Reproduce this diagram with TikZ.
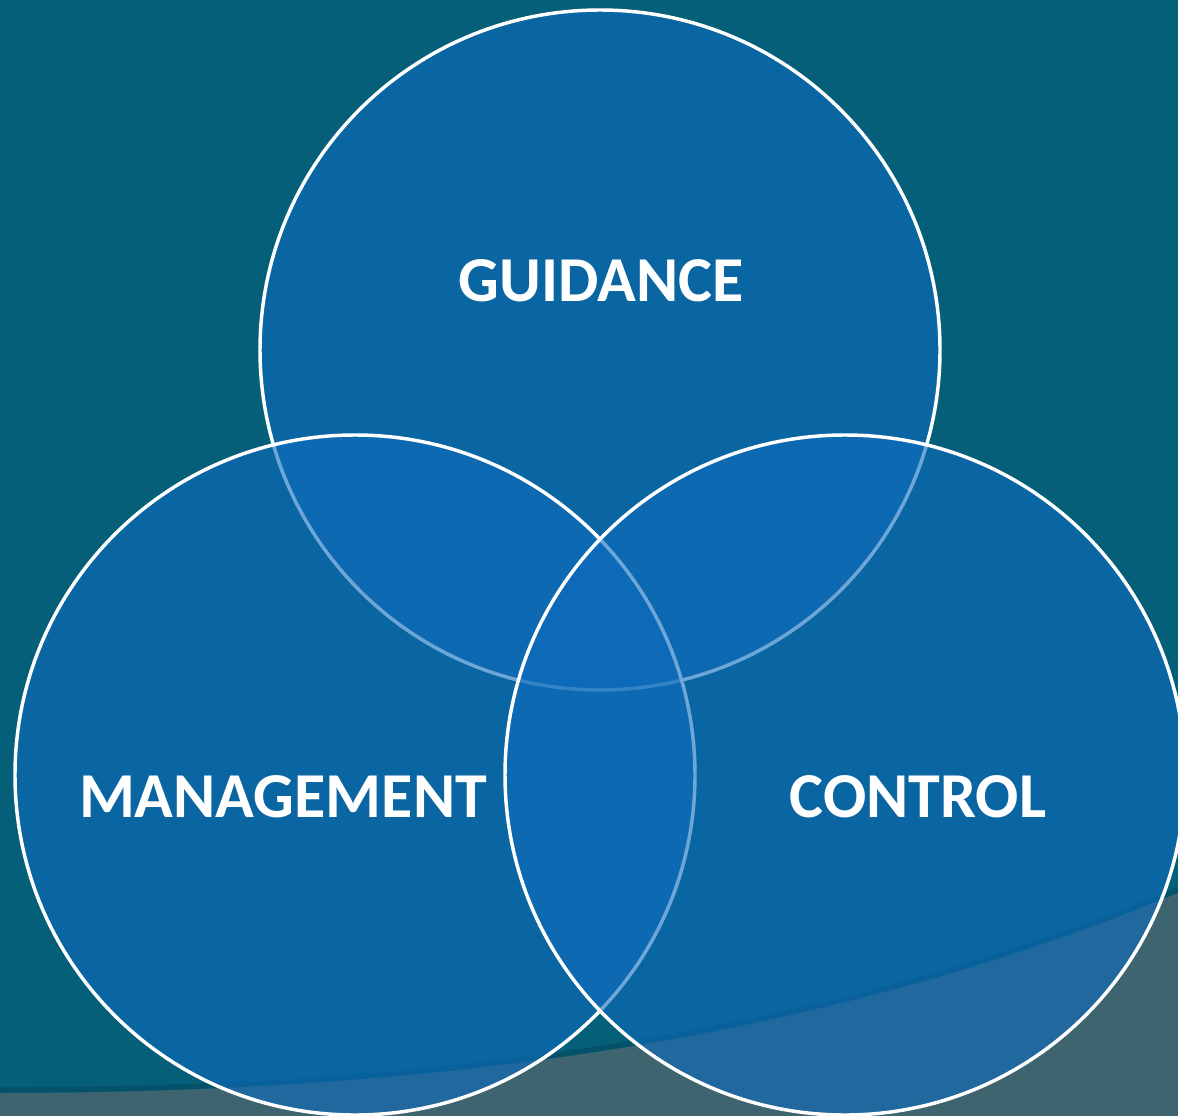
\documentclass[tikz,border=0pt]{standalone}
\usepackage{fontspec}
\setsansfont{Carlito}
\usepackage{tikz}
\usetikzlibrary{positioning}
\definecolor{bgteal}{RGB}{5,95,120}
\definecolor{bandgrey}{RGB}{62,100,112}
\definecolor{bandshade}{RGB}{2,70,92}
\definecolor{ringblue}{RGB}{14,108,190}
\tikzset{
  ring/.style={circle, draw=white, line width=2.6pt, fill=ringblue, fill opacity=0.6, minimum size=510pt, inner sep=0pt},
  word/.style={text=white, font=\sffamily\bfseries\fontsize{48}{52}\selectfont, inner sep=0pt}
}
\begin{document}
\begin{tikzpicture}[x=0.75pt, y=-0.75pt]
    \useasboundingbox (0,0) rectangle (1178,1116);
    \clip (0,0) rectangle (1178,1116);
    % background and lower band
    \fill[bgteal] (0,0) rectangle (1178,1116);
    \draw[bandshade, line width=4pt, opacity=0.5] (0,1090) .. controls (400,1090) and (800,1047) .. (1178,890);
    \fill[bandgrey] (0,1093) .. controls (400,1093) and (800,1050) .. (1178,893) -- (1178,1116) -- (0,1116) -- cycle;
    % the three circles
    \node[ring] (guidance) at (600,350) {};
    \node[ring] (management) at (355,775) {};
    \node[ring] (control) at (845,775) {};
    % labels
    \node[word] (guidancetext) at (601,281) {GUIDANCE};
    \node[word] (managementtext) at (283,797) {MANAGEMENT};
    \node[word] (controltext) at (918,797) {CONTROL};
\end{tikzpicture}
\end{document}
